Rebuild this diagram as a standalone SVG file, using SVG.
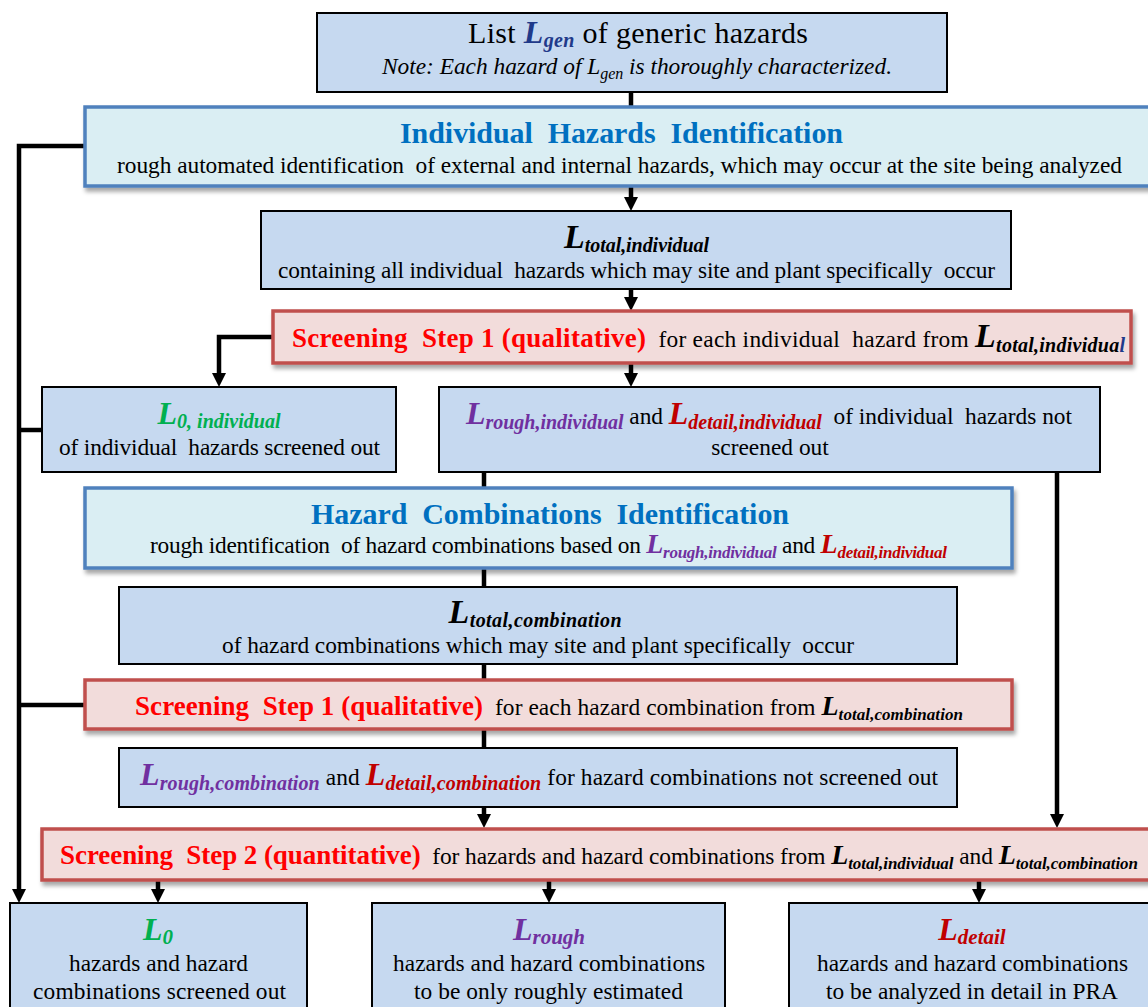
<svg xmlns="http://www.w3.org/2000/svg" width="1148" height="1007" viewBox="0 0 1148 1007" font-size="23.4">
<defs>
<style>
text{font-family:"Liberation Serif","Times New Roman",serif;fill:#000;white-space:pre}
.box{fill:#C6D9F0;stroke:#000;stroke-width:2}
.idb{fill:#DAEEF3;stroke:#4F81BD;stroke-width:3.5}
.scr{fill:#F2DCDB;stroke:#C0504D;stroke-width:3.5}
.con{fill:none;stroke:#000;stroke-width:4.5}
.arr{marker-end:url(#ah)}
.red{fill:#FF0000;font-weight:bold}
.ttl{fill:#0070C0;font-weight:bold}
.L{font-weight:bold;font-style:italic}
.pur{fill:#7030A0}
.dred{fill:#C00000}
.grn{fill:#00B050}
.navy{fill:#1F3A8A}
</style>
<marker id="ah" markerUnits="userSpaceOnUse" markerWidth="14" markerHeight="14" refX="6" refY="7" orient="auto" viewBox="0 0 14 14">
<path d="M0,0 L14,7 L0,14 z" fill="#000"/>
</marker>
<filter id="sh" x="-5%" y="-20%" width="110%" height="150%">
<feDropShadow dx="2" dy="4" stdDeviation="2" flood-color="#000" flood-opacity="0.35"/>
</filter>
</defs>

<g id="connectors">
<line class="con" x1="631" y1="91" x2="631" y2="107"/>
<line class="con arr" x1="631" y1="187" x2="631" y2="203"/>
<line class="con arr" x1="631" y1="289" x2="631" y2="303"/>
<line class="con arr" x1="631" y1="363" x2="631" y2="379"/>
<path class="con arr" d="M273,337 H219 V379"/>
<path class="con arr" d="M84,146 H19 V895"/>
<line class="con" x1="19" y1="430" x2="42" y2="430"/>
<line class="con" x1="19" y1="705" x2="85" y2="705"/>
<line class="con arr" x1="484" y1="471" x2="484" y2="820"/>
<line class="con arr" x1="1057" y1="471" x2="1057" y2="820"/>
<line class="con arr" x1="158" y1="880" x2="158" y2="895"/>
<line class="con arr" x1="549" y1="880" x2="549" y2="895"/>
<line class="con arr" x1="979" y1="880" x2="979" y2="895"/>
</g>

<g id="n1">
<rect class="box" x="317" y="13" width="630" height="79"/>
<text x="638" y="43" text-anchor="middle" font-size="30" textLength="340">List <tspan class="L navy" font-size="32">L</tspan><tspan class="L navy" font-size="20" dy="4">gen</tspan><tspan dy="-4"> of generic hazards</tspan></text>
<text x="637" y="74" text-anchor="middle" font-style="italic" textLength="510">Note: Each hazard of L<tspan font-size="16" dy="5">gen</tspan><tspan dy="-5"> is thoroughly characterized.</tspan></text>
</g>

<g id="n2">
<rect class="idb" x="85" y="107" width="1080" height="79" filter="url(#sh)"/>
<text class="ttl" x="621.5" y="143" text-anchor="middle" font-size="30" textLength="443">Individual  Hazards  Identification</text>
<text x="619.5" y="173" text-anchor="middle" textLength="1005">rough automated identification  of external and internal hazards, which may occur at the site being analyzed</text>
</g>

<g id="n3">
<rect class="box" x="261" y="211" width="750" height="78"/>
<text x="636.5" y="248" text-anchor="middle" textLength="145"><tspan class="L" font-size="34">L</tspan><tspan class="L" font-size="20" dy="4">total,individual</tspan></text>
<text x="636.5" y="278" text-anchor="middle" textLength="717">containing all individual  hazards which may site and plant specifically  occur</text>
</g>

<g id="n4">
<rect class="scr" x="273" y="311" width="858" height="52" filter="url(#sh)"/>
<text x="292" y="347" textLength="833"><tspan class="red" font-size="27">Screening  Step 1 (qualitative)</tspan><tspan>  for each individual  hazard from </tspan><tspan class="L" font-size="34">L</tspan><tspan class="L" font-size="20" dy="5">total,individua</tspan><tspan class="L navy" font-size="20">l</tspan></text>
</g>

<g id="n5">
<rect class="box" x="42" y="387" width="354" height="85"/>
<text x="219" y="424" text-anchor="middle" textLength="123"><tspan class="L grn" font-size="32">L</tspan><tspan class="L grn" font-size="20" dy="4">0, individual</tspan></text>
<text x="219.5" y="455" text-anchor="middle" textLength="321">of individual  hazards screened out</text>
</g>

<g id="n6">
<rect class="box" x="439" y="387" width="661" height="85"/>
<text x="466" y="424" textLength="606"><tspan class="L pur" font-size="32">L</tspan><tspan class="L pur" font-size="20" dy="5">rough,individual</tspan><tspan dy="-5"> and </tspan><tspan class="L dred" font-size="32">L</tspan><tspan class="L dred" font-size="20" dy="5">detail,individual</tspan><tspan dy="-5">  of individual  hazards not</tspan></text>
<text x="770" y="455" text-anchor="middle">screened out</text>
</g>

<g id="n7">
<rect class="idb" x="85" y="488" width="927" height="80" filter="url(#sh)"/>
<text class="ttl" x="550" y="524" text-anchor="middle" font-size="30" textLength="478">Hazard  Combinations  Identification</text>
<text x="150" y="553" textLength="797">rough identification  of hazard combinations based on <tspan class="L pur" font-size="28">L</tspan><tspan class="L pur" font-size="17" dy="5">rough,individual</tspan><tspan dy="-5"> and </tspan><tspan class="L dred" font-size="28">L</tspan><tspan class="L dred" font-size="17" dy="5">detail,individual</tspan></text>
</g>

<g id="n8">
<rect class="box" x="119" y="587" width="838" height="77"/>
<text x="535" y="623" text-anchor="middle" textLength="173"><tspan class="L" font-size="34">L</tspan><tspan class="L" font-size="20" dy="4">total,combination</tspan></text>
<text x="538" y="653" text-anchor="middle" textLength="632">of hazard combinations which may site and plant specifically  occur</text>
</g>

<g id="n9">
<rect class="scr" x="85" y="680" width="927" height="49" filter="url(#sh)"/>
<text x="135" y="715" textLength="828"><tspan class="red" font-size="27">Screening  Step 1 (qualitative)</tspan><tspan>  for each hazard combination from </tspan><tspan class="L" font-size="28">L</tspan><tspan class="L" font-size="17" dy="5">total,combination</tspan></text>
</g>

<g id="n10">
<rect class="box" x="119" y="748" width="838" height="59"/>
<text x="140" y="785" textLength="798"><tspan class="L pur" font-size="32">L</tspan><tspan class="L pur" font-size="20" dy="5">rough,combination</tspan><tspan dy="-5"> and </tspan><tspan class="L dred" font-size="32">L</tspan><tspan class="L dred" font-size="20" dy="5">detail,combination</tspan><tspan dy="-5"> for hazard combinations not screened out</tspan></text>
</g>

<g id="n11">
<rect class="scr" x="42" y="829" width="1120" height="51" filter="url(#sh)"/>
<text x="60" y="864" textLength="1078"><tspan class="red" font-size="27">Screening  Step 2 (quantitative)</tspan><tspan>  for hazards and hazard combinations from </tspan><tspan class="L" font-size="28">L</tspan><tspan class="L" font-size="17" dy="5">total,individual</tspan><tspan dy="-5"> and </tspan><tspan class="L" font-size="28">L</tspan><tspan class="L" font-size="17" dy="5">total,combination</tspan></text>
</g>

<g id="n12">
<rect class="box" x="10" y="903" width="297" height="120"/>
<text x="158" y="940" text-anchor="middle"><tspan class="L grn" font-size="32">L</tspan><tspan class="L grn" font-size="21" dy="4">0</tspan></text>
<text x="158.5" y="971" text-anchor="middle" textLength="179">hazards and hazard</text>
<text x="159.5" y="999" text-anchor="middle" textLength="253">combinations screened out</text>
</g>

<g id="n13">
<rect class="box" x="372" y="903" width="353" height="120"/>
<text x="549" y="940" text-anchor="middle"><tspan class="L pur" font-size="32">L</tspan><tspan class="L pur" font-size="21" dy="4">rough</tspan></text>
<text x="549" y="971" text-anchor="middle" textLength="312">hazards and hazard combinations</text>
<text x="548.5" y="999" text-anchor="middle" textLength="269">to be only roughly estimated</text>
</g>

<g id="n14">
<rect class="box" x="789" y="903" width="370" height="120"/>
<text x="972" y="940" text-anchor="middle"><tspan class="L dred" font-size="32">L</tspan><tspan class="L dred" font-size="21" dy="4">detail</tspan></text>
<text x="972.5" y="971" text-anchor="middle" textLength="311">hazards and hazard combinations</text>
<text x="972" y="999" text-anchor="middle" textLength="292">to be analyzed in detail in PRA</text>
</g>
</svg>
